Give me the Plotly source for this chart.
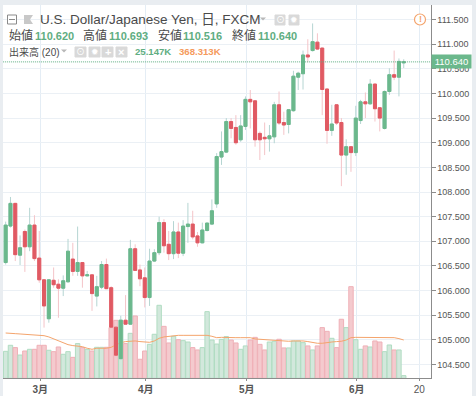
import plotly.graph_objects as go

opens = [106.57,107.31,107.77,106.72,107.20,106.89,107.33,106.66,106.22,105.43,106.21,106.13,106.05,106.18,106.64,106.39,106.57,106.30,106.32,105.89,106.07,106.53,106.06,105.26,104.62,105.40,105.32,106.85,106.42,106.26,105.86,106.60,106.77,107.38,106.94,106.75,107.19,106.76,107.30,107.35,107.11,106.97,107.22,107.35,107.76,108.71,108.81,109.43,109.31,109.06,109.33,109.88,109.85,109.19,109.11,109.08,109.12,109.77,109.41,109.37,109.65,110.33,110.40,110.78,110.87,111.04,110.92,110.09,109.25,109.77,109.41,108.75,108.92,108.80,109.45,109.83,109.79,110.19,109.71,109.29,110.04,110.38,110.33,110.62]
highs = [107.40,107.90,107.78,107.12,107.24,107.68,107.53,107.21,106.23,106.23,106.47,106.23,106.31,107.05,106.97,107.30,106.58,106.40,106.33,106.30,106.60,106.65,106.09,105.27,105.49,105.91,107.03,106.94,106.53,106.47,106.85,106.84,107.50,107.45,107.21,107.41,107.38,107.43,107.78,107.62,107.19,107.38,107.38,107.85,108.79,109.23,109.50,109.50,109.56,109.56,109.94,110.07,109.86,109.23,109.41,109.36,109.83,110.04,109.63,109.68,110.46,110.44,110.87,111.10,111.42,111.22,110.93,110.10,109.77,109.78,109.50,109.07,108.93,109.75,109.87,110.02,110.29,110.20,109.72,110.06,110.51,110.87,110.71,110.693]
lows = [106.53,107.28,106.60,106.52,106.38,106.80,106.60,106.16,105.25,105.35,106.06,105.45,105.89,106.16,106.30,106.30,106.06,106.29,105.59,105.68,106.03,106.03,105.25,104.64,104.61,105.32,105.31,106.40,106.09,105.66,105.69,106.58,106.72,106.77,106.62,106.64,106.66,106.70,106.97,107.04,106.89,106.96,107.20,107.33,107.68,108.55,108.79,109.09,108.96,109.02,109.26,109.29,108.92,108.65,108.75,108.82,108.99,109.36,109.16,109.19,109.63,110.07,110.08,110.63,110.85,110.88,109.56,108.98,109.14,109.36,108.12,108.35,108.41,108.73,109.38,109.50,109.77,109.43,109.23,109.27,109.97,110.27,109.94,110.516]
closes = [107.33,107.77,106.73,106.87,106.89,107.33,106.65,106.22,105.69,106.22,106.12,106.05,106.20,106.80,106.39,106.57,106.30,106.32,105.94,106.08,106.53,106.04,105.26,104.69,105.40,105.32,106.85,106.41,106.24,105.86,106.60,106.77,107.38,106.91,106.75,107.19,106.76,107.31,107.35,107.09,106.97,107.23,107.37,107.62,108.72,108.82,109.43,109.29,109.00,109.34,109.88,109.83,109.06,109.06,109.08,109.14,109.77,109.40,109.36,109.67,110.35,110.41,110.78,110.74,111.05,110.90,110.08,109.25,109.38,109.40,108.75,108.92,108.80,109.50,109.83,109.79,110.19,109.69,109.50,110.04,110.38,110.33,110.65,110.64]
volumes = [255,312,290,220,258,274,274,312,312,265,252,296,227,252,198,328,290,274,258,293,293,293,479,548,548,328,425,589,180,258,321,416,690,491,334,397,365,356,343,290,268,290,630,362,324,368,394,362,334,274,306,362,387,321,268,343,350,369,287,287,353,353,337,306,268,306,479,444,378,290,558,479,866,365,274,306,296,353,343,252,315,268,268,25.147]
volume_ma = [428,428,422,419,416,413,410,406,403,391,372,356,337,318,309,306,299,284,274,284,284,284,293,315,337,347,353,353,347,340,340,353,378,391,397,400,406,406,406,406,406,406,406,397,384,387,384,384,384,384,387,384,372,369,365,359,353,350,350,350,353,356,353,347,337,331,331,340,343,347,350,362,384,387,387,387,387,387,387,387,387,384,375,362]
tick_positions = [7.2,29.2,50.25,73.2,86.25]
tick_labels = ["3月","4月","5月","6月","20"]
price_ticks = [104.5,105.0,105.5,106.0,106.5,107.0,107.5,108.0,108.5,109.0,109.5,110.0,110.5,111.0,111.5]
last_price = 110.64
xs = list(range(len(closes)))

UP, DOWN = "#6bb88c", "#e05a63"
UPW, DOWNW = "#b5d5d2", "#f4c4c8"
W, H = 476, 396
def px(x): return x / W
def py(y): return 1 - y / H

fig = go.Figure()
fig.add_trace(go.Bar(x=xs, y=volumes, width=0.92, yaxis="y",
    marker=dict(color=["#d2e8dc" if c >= o else "#f4cace" for o, c in zip(opens, closes)],
                line=dict(color=["#b0dcc2" if c >= o else "#efb0b7" for o, c in zip(opens, closes)], width=1)),
    showlegend=False))
fig.add_trace(go.Scatter(x=xs, y=volume_ma, mode="lines", yaxis="y",
    line=dict(color="#f4a46c", width=1), showlegend=False))
fig.add_trace(go.Candlestick(x=xs, open=opens, high=highs, low=lows, close=closes, yaxis="y2",
    increasing=dict(line=dict(color=UPW, width=1), fillcolor=UPW),
    decreasing=dict(line=dict(color=DOWNW, width=1), fillcolor=DOWNW),
    whiskerwidth=0, showlegend=False))
fig.add_trace(go.Candlestick(x=xs, open=opens, close=closes, yaxis="y2",
    high=[max(o, c) for o, c in zip(opens, closes)], low=[min(o, c) for o, c in zip(opens, closes)],
    increasing=dict(line=dict(color=UP, width=1), fillcolor=UP),
    decreasing=dict(line=dict(color=DOWN, width=1), fillcolor=DOWN),
    whiskerwidth=0, showlegend=False))
fig.add_trace(go.Scatter(x=[-1, 90], y=[last_price, last_price], mode="lines", yaxis="y2",
    line=dict(color="#5fae82", width=1, dash="1px,1px"), showlegend=False))

def box(x0, y0, x1, y1, fill, line=None):
    return dict(type="rect", xref="paper", yref="paper", x0=px(x0), x1=px(x1), y0=py(y1), y1=py(y0),
                fillcolor=fill, line=dict(color=line or fill, width=1), layer="above")

shapes = [dict(type="rect", xref="paper", yref="paper", x0=px(3), x1=px(472), y0=0, y1=py(5),
               fillcolor="white", line=dict(width=0), layer="below")]
for a, b in [(75, 86), (89, 100), (102, 113), (116, 127)]:
    shapes.append(box(a, 47, b, 57, "#d9d9d9"))
for a, b in [(275, 285), (289, 299)]:
    shapes.append(box(a, 15, b, 25, "#d9d9d9"))
shapes.append(box(7.5, 15, 16.5, 24, "white", "#8a8a8a"))
shapes.append(dict(type="line", xref="paper", yref="paper", x0=px(9), x1=px(15), y0=py(19.5), y1=py(19.5),
                   line=dict(color="#8a8a8a", width=1)))
shapes.append(dict(type="path", xref="paper", yref="paper", fillcolor="#c8c8c8", line=dict(width=0),
    path=f"M {px(24)} {py(15)} L {px(33)} {py(15)} L {px(30)} {py(19.5)} L {px(33)} {py(24)} L {px(24)} {py(24)} Z"))
for cx, cy in [(263, 19), (64, 51)]:
    shapes.append(dict(type="path", xref="paper", yref="paper", fillcolor="#b8b8b8", line=dict(width=0),
        path=f"M {px(cx-3)} {py(cy-1.5)} L {px(cx+3)} {py(cy-1.5)} L {px(cx)} {py(cy+1.5)} Z"))
shapes.append(dict(type="circle", xref="paper", yref="paper", x0=px(414.5), x1=px(425.5), y0=py(25), y1=py(14),
                   fillcolor="white", line=dict(color="#f4a46c", width=1.2)))

DARK = "#4a4a4a"; GREEN = "#5fae82"; ORANGE = "#f59a5c"
def label(x, y, text, size, color, bold=False, anchor="left"):
    return dict(xref="paper", yref="paper", x=px(x), y=py(y), xanchor=anchor, yanchor="middle", showarrow=False,
                text=f"<b>{text}</b>" if bold else text, font=dict(size=size, color=color), align="left")

FONT_CJK = "Noto Sans CJK JP"
ann = [
    label(37.5, 20, "U.S. Dollar/Japanese Yen, 日, FXCM", 13.5, DARK),
    label(7, 35.5, "始値", 12, DARK), label(33, 35.5, "110.620", 11, GREEN, True),
    label(81, 35.5, "高値", 12, DARK), label(107, 35.5, "110.693", 11, GREEN, True),
    label(156, 35.5, "安値", 12, DARK), label(181, 35.5, "110.516", 11, GREEN, True),
    label(230, 35.5, "終値", 12, DARK), label(255.5, 35.5, "110.640", 11, GREEN, True),
    label(7, 51.5, "出来高 (20)", 10, DARK),
    label(133, 52, "25.147K", 9.6, GREEN, True), label(177, 52, "368.313K", 9.6, ORANGE, True),
    label(420, 19.5, "!", 9, "#f4a46c", True, "center"),
    label(80.5, 52, "⊙", 9, "white", False, "center"), label(94.5, 52, "✹", 9, "white", False, "center"),
    label(107.5, 52, "+", 11, "white", True, "center"), label(121.5, 52, "×", 11, "white", True, "center"),
    label(280, 20, "⊙", 9, "white", False, "center"), label(294, 20, "✹", 9, "white", False, "center"),
    dict(xref="paper", yref="paper", x=px(430.5), y=py(61.5), xanchor="left", yanchor="middle", showarrow=False,
         text="110.640", font=dict(size=9.5, color="white"), bgcolor="#6bb88c", borderpad=1,
         width=37, height=11, align="center"),
]

fig.update_layout(
    width=W, height=H, margin=dict(l=0, r=0, t=0, b=0), autosize=False,
    paper_bgcolor="#e9edf1", plot_bgcolor="rgba(0,0,0,0)", showlegend=False,
    font=dict(family=f"Liberation Sans, {FONT_CJK}", color=DARK),
    boxmode="overlay", boxgap=0.1, bargap=0.1,
    shapes=shapes, annotations=ann,
    xaxis=dict(domain=[px(3), px(430.5)], range=[-0.557, 88.58], tickmode="array",
               tickvals=tick_positions, ticktext=[f"<b>{t}</b>" for t in tick_labels[:4]] + tick_labels[4:],
               showgrid=True, gridcolor="#e4edf5", gridwidth=1,
               showline=True, linecolor="#8c8c8c", ticks="outside", ticklen=2, tickcolor="#8c8c8c",
               tickfont=dict(size=10, color="#555555"), rangeslider=dict(visible=False), zeroline=False,
               fixedrange=True),
    yaxis=dict(domain=[py(378.3), py(5)], range=[0, 3528], showgrid=False, showticklabels=False, ticks="",
               zeroline=False, showline=False, fixedrange=True),
    yaxis2=dict(domain=[py(378.3), py(5)], overlaying="y", side="right", anchor="x", range=[104.222, 111.794],
                tickmode="array", tickvals=price_ticks, ticktext=[f"{v:.3f}" for v in price_ticks],
                showgrid=True, gridcolor="#ebf0f5", gridwidth=1, showline=True, linecolor="#8c8c8c",
                ticks="outside", ticklen=4, tickcolor="#8c8c8c", tickfont=dict(size=9, color="#555555"),
                zeroline=False, fixedrange=True),
)
fig.write_html("out.html", config=dict(displayModeBar=False),
               post_script="document.body.style.margin='0';document.body.style.overflow='hidden';")
